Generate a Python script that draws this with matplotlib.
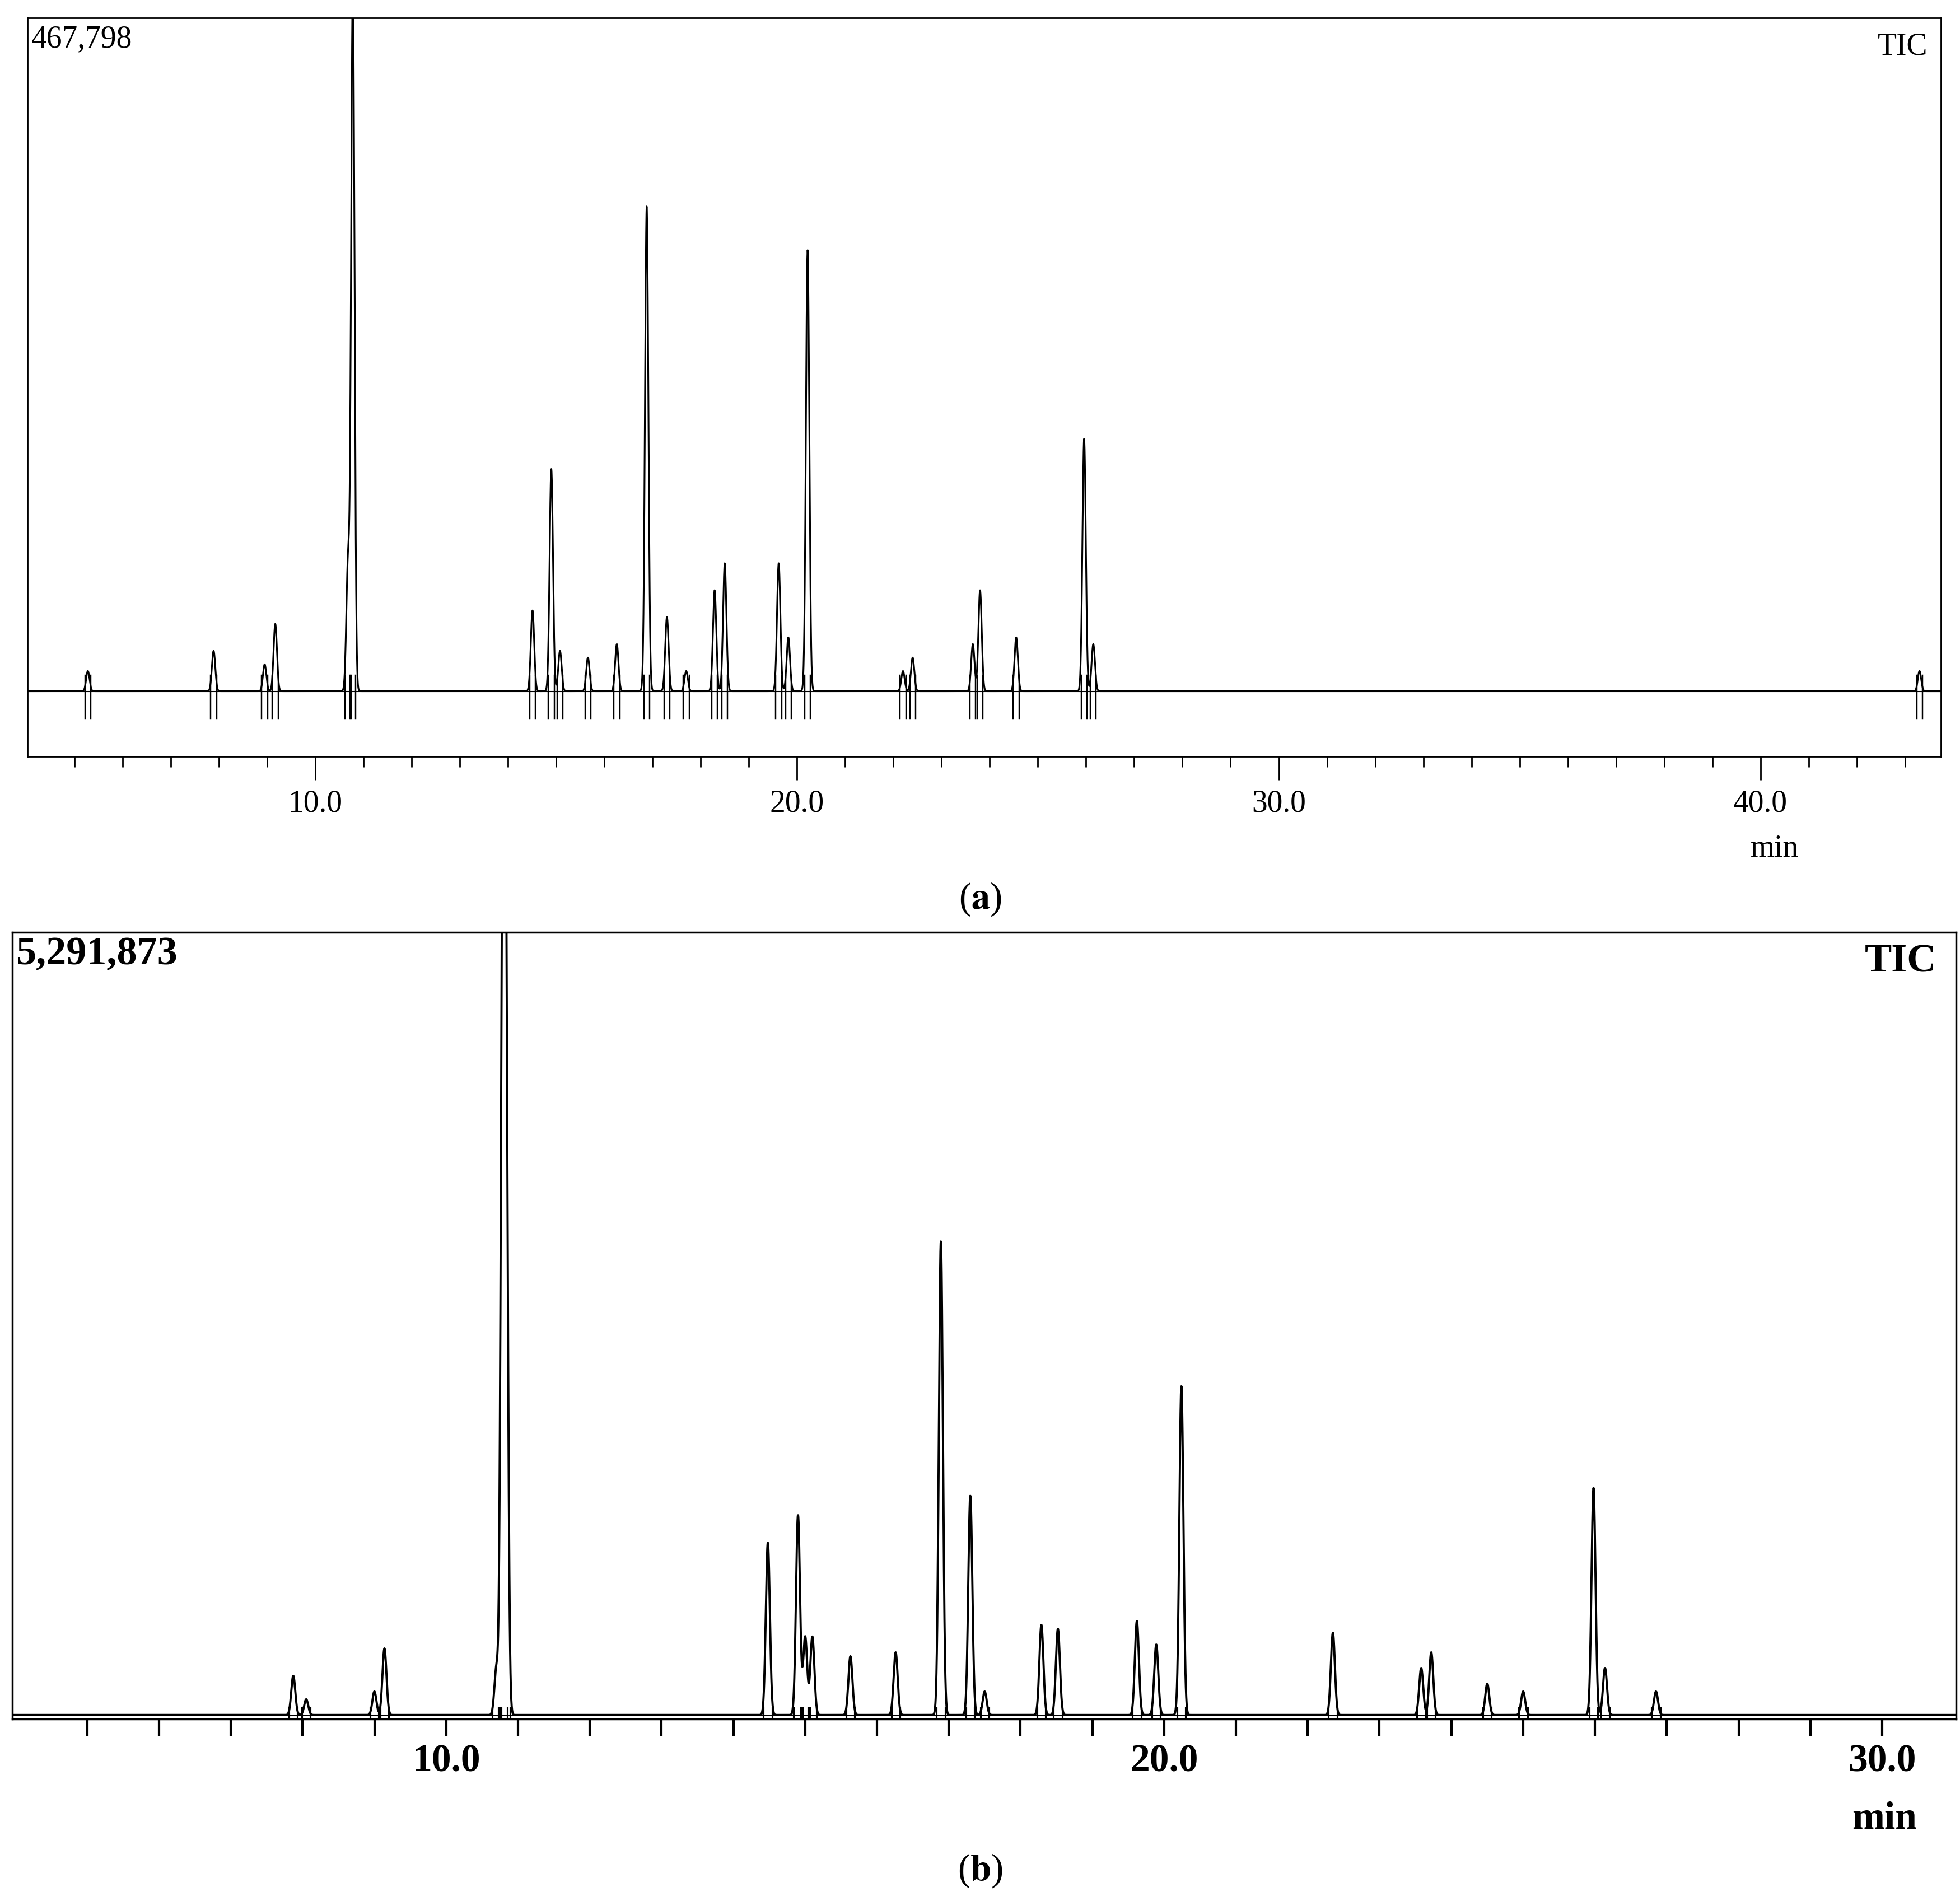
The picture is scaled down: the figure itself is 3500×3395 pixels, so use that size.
import numpy as np
import matplotlib.pyplot as plt

plt.rcParams['font.family'] = ['Liberation Serif', 'DejaVu Serif']
plt.rcParams['mathtext.fontset'] = 'stix'

# panel (a): retention time (min), relative height
a_times = [5.28, 7.89, 8.95, 9.17, 10.68, 10.78, 14.51, 14.90, 15.08, 15.66, 16.26,
           16.88, 17.30, 17.70, 18.29, 18.50, 19.62, 19.82, 20.22, 22.20, 22.40,
           23.65, 23.80, 24.55, 25.96, 26.15, 43.30]
a_heights = [0.03, 0.06, 0.04, 0.10, 0.19, 1.05, 0.12, 0.33, 0.06, 0.05, 0.07,
             0.72, 0.11, 0.03, 0.15, 0.19, 0.19, 0.08, 0.655, 0.03, 0.05,
             0.07, 0.15, 0.08, 0.375, 0.07, 0.03]

# panel (b)
b_times = [7.87, 8.05, 9.00, 9.14, 10.70, 10.79, 10.83, 14.48, 14.90, 15.00, 15.10, 15.63,
           16.26, 16.89, 17.30, 17.50, 18.29, 18.52, 19.62, 19.89, 20.24, 22.35,
           23.58, 23.72, 24.50, 25.00, 25.98, 26.14, 26.85]
b_heights = [0.05, 0.02, 0.03, 0.085, 0.06, 1.05, 0.84, 0.22, 0.255, 0.10, 0.10, 0.075,
             0.08, 0.605, 0.28, 0.03, 0.115, 0.11, 0.12, 0.09, 0.42, 0.105,
             0.06, 0.08, 0.04, 0.03, 0.29, 0.06, 0.03]


def trace(ax, times, heights, xlim, width, lw, mark):
    x = np.linspace(xlim[0], xlim[1], 15000)
    y = np.zeros_like(x)
    for t, h in zip(times, heights):
        y += h * np.exp(-0.5 * ((x - t) / width) ** 2)
    ax.plot(x, y, color='black', lw=lw)
    for t in times:
        for dt in (-0.06, 0.06):
            ax.plot([t + dt, t + dt], [-mark, mark * 0.6], color='black', lw=lw * 0.8)


fig = plt.figure(figsize=(35, 33.95), dpi=100)

# (a)
ax1 = fig.add_axes([0.0141, 0.602, 0.9763, 0.3887])
trace(ax1, a_times, a_heights, (4.03, 43.75), 0.035, 2.2, 0.04)
ax1.axhline(0, color='black', lw=1.5)
ax1.set_xlim(4.03, 43.75)
ax1.set_ylim(-0.097, 1.0)
ax1.set_yticks([])
ax1.set_xticks([10, 20, 30, 40])
ax1.set_xticklabels(['10.0', '20.0', '30.0', '40.0'], fontsize=40)
ax1.set_xticks(np.arange(5, 44, 1), minor=True)
ax1.tick_params(axis='x', which='major', length=30, width=2, direction='out', pad=12)
ax1.tick_params(axis='x', which='minor', length=14, width=2, direction='out')
for s in ax1.spines.values():
    s.set_linewidth(2)
ax1.text(0.002, 0.99, '467,798', transform=ax1.transAxes, fontsize=40, va='top', ha='left')
ax1.text(0.993, 0.98, 'TIC', transform=ax1.transAxes, fontsize=40, va='top', ha='right')
ax1.text(0.913, -0.105, 'min', transform=ax1.transAxes, fontsize=40, va='top', ha='center')
fig.text(0.5, 0.527, r'($\mathbf{a}$)', fontsize=48, ha='center', va='center')

# (b)
ax2 = fig.add_axes([0.0064, 0.0958, 0.9916, 0.4138])
trace(ax2, b_times, b_heights, (3.96, 31.03), 0.028, 2.8, 0.015)
ax2.axhline(0, color='black', lw=2)
ax2.set_xlim(3.96, 31.03)
ax2.set_ylim(-0.005, 1.0)
ax2.set_yticks([])
ax2.set_xticks([10, 20, 30])
ax2.set_xticklabels(['10.0', '20.0', '30.0'], fontsize=50, fontweight='bold')
ax2.set_xticks(np.arange(5, 31, 1), minor=True)
ax2.tick_params(axis='x', which='major', length=22, width=3, direction='out', pad=10)
ax2.tick_params(axis='x', which='minor', length=22, width=3, direction='out')
for s in ax2.spines.values():
    s.set_linewidth(2.5)
ax2.text(0.002, 0.995, '5,291,873', transform=ax2.transAxes, fontsize=52, fontweight='bold',
         va='top', ha='left')
ax2.text(0.99, 0.985, 'TIC', transform=ax2.transAxes, fontsize=52, fontweight='bold',
         va='top', ha='right')
ax2.text(0.963, -0.105, 'min', transform=ax2.transAxes, fontsize=50, fontweight='bold',
         va='top', ha='center')
fig.text(0.5, 0.016, r'($\mathbf{b}$)', fontsize=48, ha='center', va='center')

fig.savefig('out.png', dpi=100)
